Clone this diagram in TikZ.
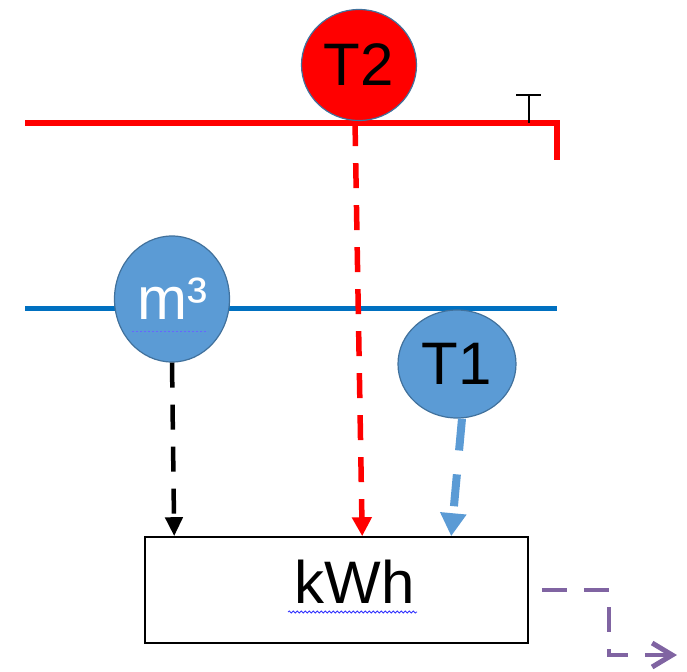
\documentclass[tikz,border=0pt]{standalone}
\usepackage{fontspec}
\setmainfont{Liberation Sans}
\usetikzlibrary{arrows.meta,calc,shapes.geometric,decorations.pathmorphing}
\definecolor{pipered}{HTML}{FF0000}
\definecolor{pipeblue}{HTML}{0070C0}
\definecolor{sensorblue}{HTML}{5B9BD5}
\definecolor{sensoredge}{HTML}{41719C}
\definecolor{outpurple}{HTML}{8064A2}

\begin{document}
\begin{tikzpicture}[x=1pt,y=-1pt,font=\fontsize{60}{60}\selectfont,
  sensor/.style={ellipse,draw=sensoredge,line width=1.2pt,inner sep=0pt},
  signal/.style={dash pattern=on 25pt off 17pt}]
\useasboundingbox (0,0) rectangle (687,671);
% pipes
\draw[pipered,line width=6pt] (25,123) -- (557,123) -- (557,160);
\draw[pipeblue,line width=5pt] (25,308) -- (557,308);
\draw[line width=1.3pt] (529,123) -- (529,95) (516,95) -- (541,95);
% sensors
\node[sensor,fill=pipered,minimum width=115pt,minimum height=111pt] (t2) at (359,65) {T2};
\node[sensor,fill=sensorblue,text=white,minimum width=115pt,minimum height=126pt] (m3) at (172,299) {m³};
\node[sensor,fill=sensorblue,minimum width=118pt,minimum height=108pt] (t1) at (457,364) {T1};
\draw[blue!60,line width=0.8pt,dash pattern=on 2pt off 2pt] (132,331) -- (208,331);
% meter
\node[draw,line width=1.6pt,fill=white,inner sep=0pt,minimum width=383pt,minimum height=106pt,
  text height=44pt,text depth=18pt] (kwh) at (336.5,590) {\hspace*{36pt}kWh};
\draw[blue!80,line width=0.8pt,decorate,decoration={snake,amplitude=1pt,segment length=4pt}] (288,612) -- (417,612);
% signals
\draw[signal,line width=4.5pt,-{Triangle[width=17pt,length=19pt]}] (m3.south) -- ($(kwh.north west)+(30,0)$);
\draw[signal,pipered,line width=5.5pt,-{Triangle[width=19pt,length=19pt]}] ([xshift=-4pt]t2.south) -- ($(kwh.north west)+(218,0)$);
\draw[sensorblue,line width=8pt,dash pattern=on 32pt off 24pt,-{Triangle[width=25pt,length=23pt]}] ([xshift=5pt]t1.south) -- ($(kwh.north west)+(307,0)$);
\coordinate (out) at (677,655);
\draw[outpurple,line width=4.5pt,dash pattern=on 25pt off 17pt,-{Straight Barb[length=20pt,width=24pt,line width=5pt]}] ([xshift=13pt]kwh.east) -- ++(67,0) |- (out);
\end{tikzpicture}
\end{document}
